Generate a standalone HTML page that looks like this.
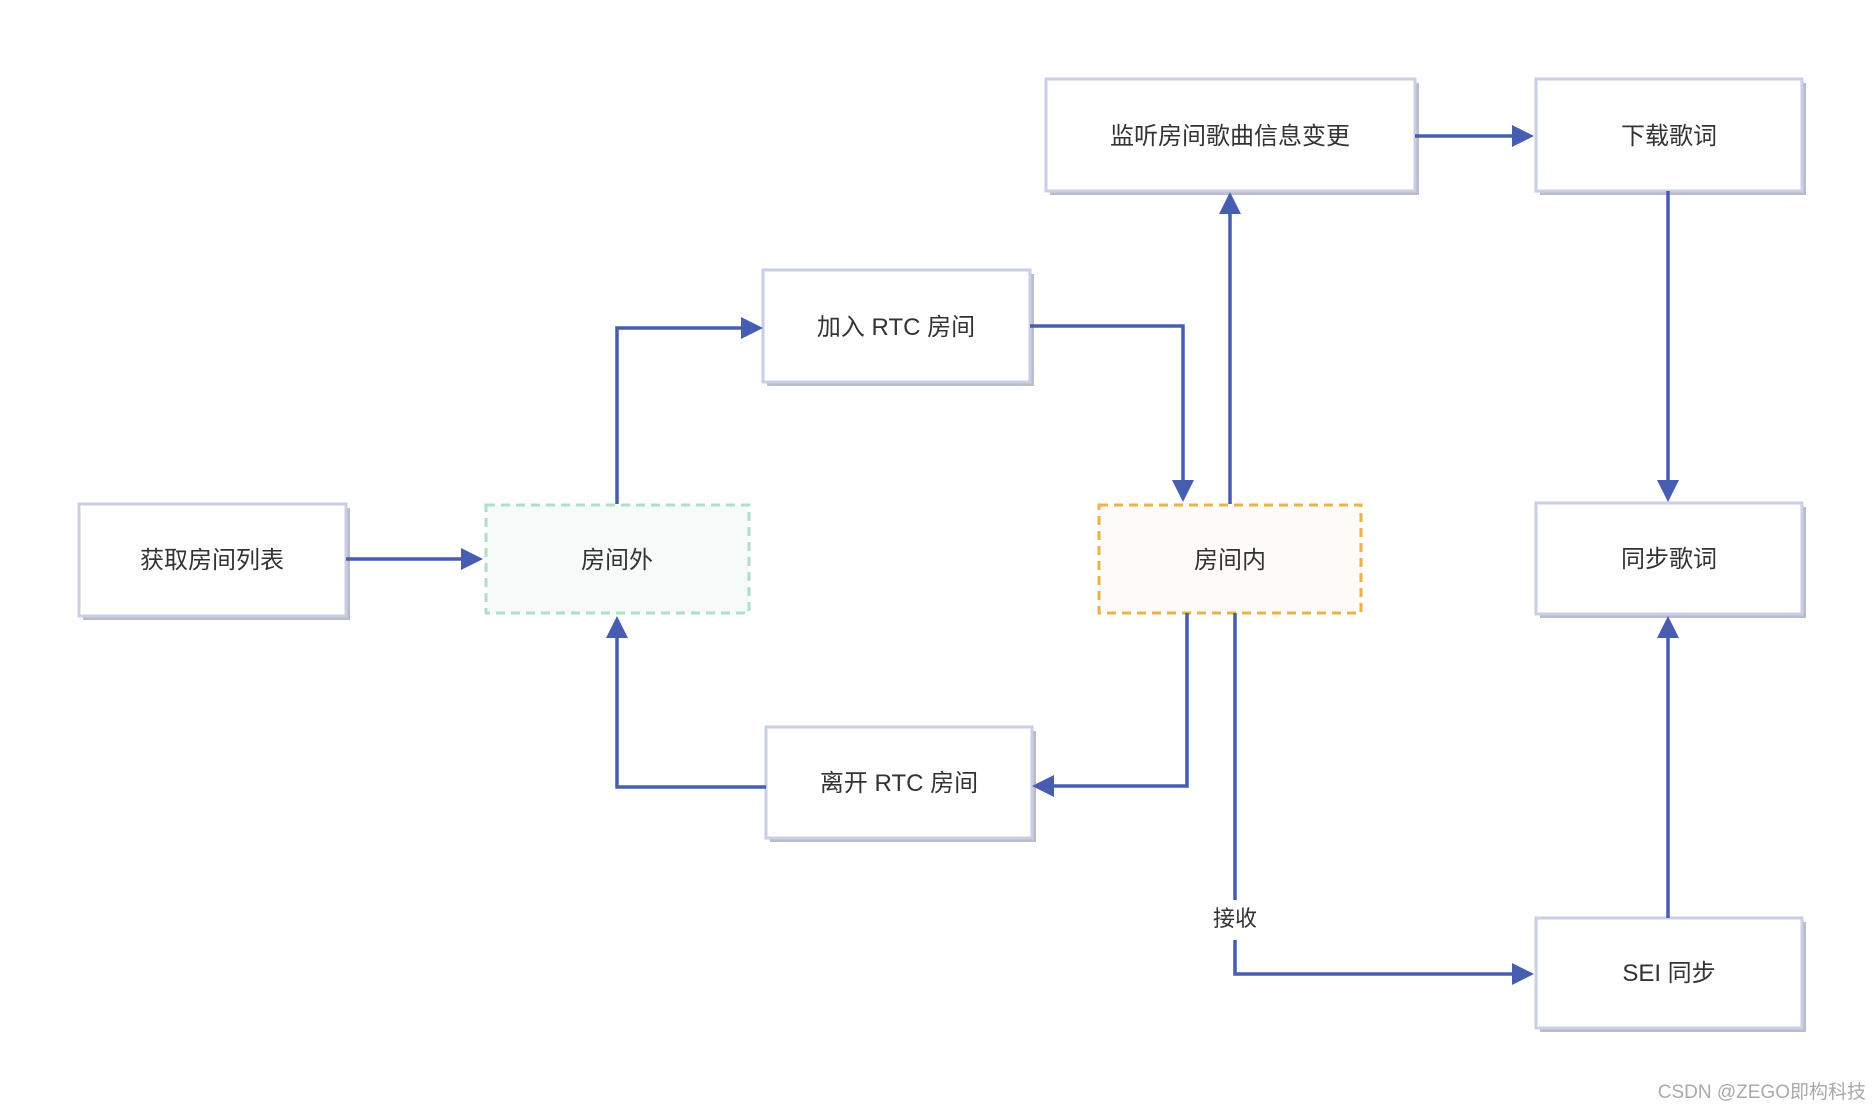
<!DOCTYPE html>
<html><head><meta charset="utf-8"><style>
html,body{margin:0;padding:0;background:#fff;}
svg{display:block;}
text{font-family:"Liberation Sans","Noto Sans CJK SC",sans-serif;font-size:24px;fill:#333;}
</style></head><body>
<svg width="1876" height="1105" viewBox="0 0 1876 1105" xmlns="http://www.w3.org/2000/svg">
<defs>
<marker id="a" markerWidth="10" markerHeight="10" refX="9" refY="5" orient="auto" markerUnits="userSpaceOnUse" viewBox="0 0 10 10">
</marker>
</defs>
<g fill="#b9bccb">
<rect x="83" y="508" width="267" height="112"/>
<rect x="767" y="274" width="267" height="112"/>
<rect x="770" y="731" width="266" height="111"/>
<rect x="1050" y="83" width="369" height="112"/>
<rect x="1540" y="83" width="266" height="112"/>
<rect x="1540" y="507" width="266" height="111"/>
<rect x="1540" y="922" width="266" height="110"/>
</g>
<g fill="#fff" stroke="#c8cfe6" stroke-width="3">
<rect x="79" y="504" width="267" height="112"/>
<rect x="763" y="270" width="267" height="112"/>
<rect x="766" y="727" width="266" height="111"/>
<rect x="1046" y="79" width="369" height="112"/>
<rect x="1536" y="79" width="266" height="112"/>
<rect x="1536" y="503" width="266" height="111"/>
<rect x="1536" y="918" width="266" height="110"/>
</g>
<rect x="486" y="505" width="263" height="108" fill="#f6faf8" stroke="#b1dec8" stroke-width="3" stroke-dasharray="9,6"/>
<rect x="1099" y="505" width="262" height="108" fill="#fcfbf7" stroke="#edb04c" stroke-width="3" stroke-dasharray="9,6"/>
<g fill="none" stroke="#475db0" stroke-width="3.5">
<path d="M346 559 H464"/>
<path d="M617 504 V328 H743"/>
<path d="M1030 326 H1183 V482"/>
<path d="M1230 504 V212"/>
<path d="M1415 136 H1514"/>
<path d="M1668 191 V482"/>
<path d="M1187 613 V786 H1052"/>
<path d="M766 787 H617 V636"/>
<path d="M1235 613 V900 M1235 940 V974 H1514"/>
<path d="M1668 918 V636"/>
</g>
<g fill="#475db0">
<polygon points="483,559 461,548 461,570"/>
<polygon points="763,328 741,317 741,339"/>
<polygon points="1183,502 1172,480 1194,480"/>
<polygon points="1230,192 1219,214 1241,214"/>
<polygon points="1534,136 1512,125 1512,147"/>
<polygon points="1668,502 1657,480 1679,480"/>
<polygon points="1032,786 1054,775 1054,797"/>
<polygon points="617,616 606,638 628,638"/>
<polygon points="1534,974 1512,963 1512,985"/>
<polygon points="1668,616 1657,638 1679,638"/>
</g>
<g text-anchor="middle">
<text x="212" y="568">获取房间列表</text>
<text x="617" y="568">房间外</text>
<text x="896" y="335">加入 RTC 房间</text>
<text x="899" y="791">离开 RTC 房间</text>
<text x="1230" y="568">房间内</text>
<text x="1230" y="144">监听房间歌曲信息变更</text>
<text x="1669" y="144">下载歌词</text>
<text x="1669" y="567">同步歌词</text>
<text x="1669" y="981">SEI 同步</text>
<text x="1235" y="926" style="font-size:22px">接收</text>
</g>
<text x="1866" y="1098" text-anchor="end" style="font-size:19px;fill:#aaa">CSDN @ZEGO即构科技</text>
</svg>
</body></html>
